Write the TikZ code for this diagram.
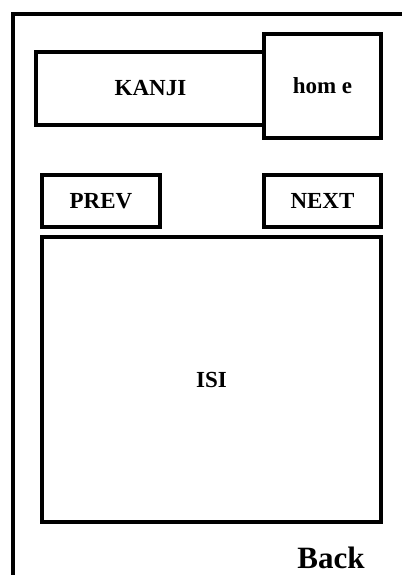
\documentclass[tikz,border=0pt]{standalone}
\usepackage{fontspec}
\setmainfont{Liberation Serif}
\usepackage{tikz}
\usetikzlibrary{positioning}

\begin{document}
\begin{tikzpicture}[
  x=0.5pt, y=-0.5pt,
  frame/.style={line width=2pt, line cap=rect},
  btn/.style={
    rectangle, draw, line width=2pt, fill=white,
    font=\bfseries\fontsize{11.5}{13}\selectfont,
    inner sep=0pt, align=center
  },
  label/.style={font=\bfseries\fontsize{15.5}{17}\selectfont, inner sep=0pt}
]
\useasboundingbox (0,0) rectangle (402,575);

% Screen frame
\draw[frame] (13,580) -- (13,14) -- (410,14);

% Title bar
\node[btn, minimum width=114.5pt, minimum height=36.5pt]
  (kanji) at (150.5,88.5) {KANJI};
\node[btn, minimum width=58.5pt, minimum height=52pt]
  (home) at (322.5,86) {hom e};

% Navigation
\node[btn, minimum width=59pt, minimum height=26pt]
  (prev) at (101,201) {PREV};
\node[btn, minimum width=58.5pt, minimum height=26pt,
  below=16.5pt of home] (next) {NEXT};

% Content
\node[btn, minimum width=169.5pt, minimum height=142.5pt]
  (isi) at (211.5,379.5) {ISI};

\node[label] (back) at (331,558) {Back};

\end{tikzpicture}
\end{document}
